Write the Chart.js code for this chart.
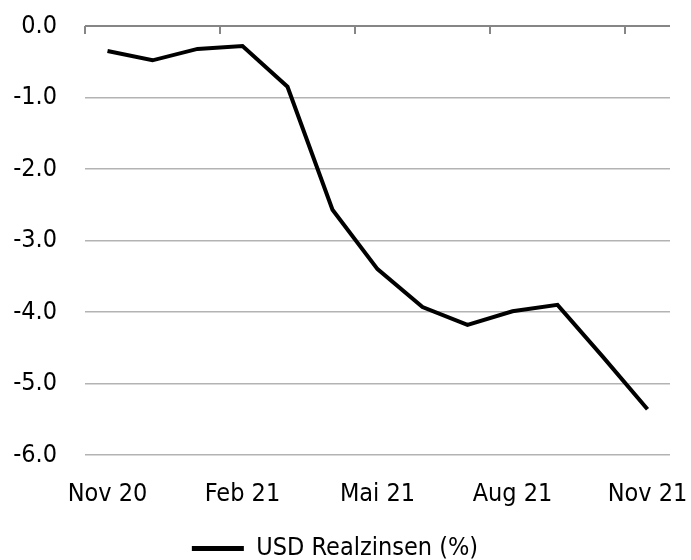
<!DOCTYPE html>
<html>
<head>
<meta charset="utf-8">
<script src="https://cdn.jsdelivr.net/npm/chart.js@4"></script>
<style>
    html, body { margin: 0; padding: 0; background: #fff; }
    #wrap { width: 691px; height: 560px; }
</style>
</head>
<body>
<div id="wrap"><canvas id="chart"></canvas></div>
<script>
// =============================================================
// DATA
// =============================================================
const months = ["Nov 20", "Dez 20", "Jan 21", "Feb 21", "Mär 21", "Apr 21", "Mai 21",
                "Jun 21", "Jul 21", "Aug 21", "Sep 21", "Okt 21", "Nov 21"];
const realRates = [-0.35, -0.48, -0.32, -0.28, -0.85, -2.57, -3.40,
                   -3.93, -4.18, -3.99, -3.90, -4.62, -5.36];
const shownTicks = [0, 3, 6, 9, 12];
const seriesName = "USD Realzinsen (%)";

const FONT = "'Liberation Sans Narrow', 'DejaVu Sans Condensed', Roboto, sans-serif";

// =============================================================
// TOP AXIS TICK MARKS (pointing down, at category boundaries)
// =============================================================
const topTicks = {
    id: "topTicks",
    afterDraw(chart) {
        const x = chart.scales.x, y = chart.scales.y;
        const ctx = chart.ctx;
        const half = (x.getPixelForValue(1) - x.getPixelForValue(0)) / 2;
        const y0 = y.getPixelForValue(0);
        ctx.save();
        ctx.strokeStyle = "#868686";
        ctx.lineWidth = 2;
        shownTicks.forEach(i => {
            const px = Math.round(x.getPixelForValue(i) - half);
            ctx.beginPath();
            ctx.moveTo(px, y0);
            ctx.lineTo(px, y0 + 8);
            ctx.stroke();
        });
        ctx.restore();
    }
};

new Chart(document.getElementById("chart"), {
    type: "line",
    data: {
        labels: months,
        datasets: [{
            label: seriesName,
            data: realRates,
            borderColor: "#000",
            backgroundColor: "#000",
            borderWidth: 4,
            pointRadius: 0,
            tension: 0
        }]
    },
    options: {
        responsive: true,
        maintainAspectRatio: false,
        animation: false,
        layout: { padding: { left: 0, right: 21, top: 26, bottom: -11 } },
        scales: {
            x: {
                offset: true,
                border: { display: false },
                grid: { display: false, drawTicks: false },
                afterFit: s => {
                    s.height = 81;
                    s.paddingLeft = 0;
                    s.paddingRight = 0;
                },
                ticks: {
                    autoSkip: false,
                    maxRotation: 0,
                    padding: 24,
                    color: "#000",
                    font: { family: FONT, size: 25 },
                    callback: (v, i) => shownTicks.includes(i) ? months[i] : ""
                }
            },
            y: {
                min: -6,
                max: 0,
                border: { display: false },
                afterFit: s => {
                    s.width = 85;
                    s.paddingTop = 0;
                    s.paddingBottom = 0;
                },
                grid: {
                    drawTicks: false,
                    color: c => c.tick.value === 0 ? "#868686" : "#b3b3b3",
                    lineWidth: c => c.tick.value === 0 ? 2 : 1.5
                },
                ticks: {
                    stepSize: 1,
                    padding: 28,
                    color: "#000",
                    font: { family: FONT, size: 25 },
                    callback: v => v.toFixed(1)
                }
            }
        },
        plugins: {
            legend: {
                position: "bottom",
                labels: {
                    color: "#000",
                    font: { family: FONT, size: 25 },
                    boxWidth: 52,
                    boxHeight: 5,
                    padding: 0,
                    generateLabels: chart => [{
                        text: seriesName,
                        fillStyle: "#000",
                        strokeStyle: "#000",
                        lineWidth: 0,
                        datasetIndex: 0
                    }]
                }
            },
            tooltip: { enabled: false }
        }
    },
    plugins: [topTicks]
});
</script>
</body>
</html>
